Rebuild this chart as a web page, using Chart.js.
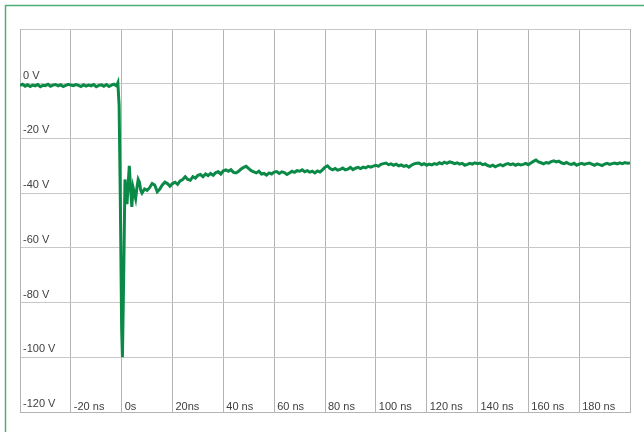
<!DOCTYPE html>
<html>
<head>
<meta charset="utf-8">
<script src="https://cdn.jsdelivr.net/npm/chart.js@4/dist/chart.umd.min.js"></script>
<style>
  html, body { margin: 0; padding: 0; background: #ffffff; overflow: hidden; width: 644px; height: 432px; }
  #c { position: absolute; left: 0; top: 0; }
</style>
</head>
<body>
<canvas id="c" width="644" height="432"></canvas>
<script>
// time in ns
const times = [
  -40,-39,-38,-37,-36,-35,-34,-33,-32,-31,
  -30,-29,-28,-27,-26,-25,-24,-23,-22,-21,
  -20,-19,-18,-17,-16,-15,-14,-13,-12,-11,
  -10,-9,-8,-7,-6,-5,-4,-3,-2,-1.5,
  -1,-0.5,0,0.3,0.8,1.3,1.7,2.1,2.6,3,
  3.5,4,4.5,5,5.5,6,6.5,7,7.5,8,
  9,10,11,12,13,14,15,16,17,18,
  19,20,21,22,23,24,25,26,27,28,
  29,30,31,32,33,34,35,36,37,38,
  39,40,41,42,43,44,45,46,47,48,
  49,50,51,52,53,54,55,56,57,58,
  59,60,61,62,63,64,65,66,67,68,
  69,70,71,72,73,74,75,76,77,78,
  79,80,81,82,83,84,85,86,87,88,
  89,90,91,92,93,94,95,96,97,98,
  99,100,101,102,103,104,105,106,107,108,
  109,110,111,112,113,114,115,116,117,118,
  119,120,121,122,123,124,125,126,127,128,
  129,130,131,132,133,134,135,136,137,138,
  139,140,141,142,143,144,145,146,147,148,
  149,150,151,152,153,154,155,156,157,158,
  159,160,161,162,163,164,165,166,167,168,
  169,170,171,172,173,174,175,176,177,178,
  179,180,181,182,183,184,185,186,187,188,
  189,190,191,192,193,194,195,196,197,198,
  199,200
];
// voltage in V
const volts = [
  -0.6,-0.2,-0.9,-0.4,-1.0,-0.5,-0.8,-0.3,-1.1,-0.6,
  -0.7,-0.2,-0.9,-0.5,-0.3,-0.8,-0.4,-1.0,-0.6,-0.2,
  -0.5,-0.7,-0.3,-0.6,-1.0,-0.4,-0.9,-0.5,-0.8,-0.3,
  -1.1,-0.6,-0.4,-0.9,-0.3,-1.0,-0.5,-0.2,-0.8,0.3,
  -8,-45,-90,-100,-70,-35,-40,-44,-36,-30,
  -38,-45,-38,-40,-42,-38,-35,-36,-39,-40,
  -38.5,-39,-38,-36.5,-37,-39.5,-38.5,-37,-36,-36.5,
  -37.5,-36.5,-36,-36.8,-35.5,-35,-34,-35,-35.3,-34,
  -34.5,-33.5,-33.2,-34,-33,-33.6,-32.8,-33.5,-32.5,-32.2,
  -33,-31.8,-31.5,-32,-31.4,-32.4,-32.6,-32,-31.2,-30.6,
  -30.2,-31,-31.8,-32.2,-32.6,-32,-33,-32.8,-33.4,-32.6,
  -33,-32.3,-32.1,-32.8,-32.2,-32.5,-33.2,-32.6,-32,-32.4,
  -31.8,-32,-31.5,-32.2,-31.8,-32.3,-32,-32.6,-31.9,-32.3,
  -31.5,-30.5,-30,-31,-31.5,-31,-31.6,-31.3,-30.8,-31.5,
  -31.2,-30.6,-31.4,-30.9,-30.6,-31,-30.5,-30.8,-30.2,-30.5,
  -30.1,-29.8,-30.2,-29.5,-29.2,-29,-29.6,-29.3,-29.8,-29.4,
  -30,-29.7,-30.2,-29.9,-30.5,-29.8,-29.3,-29.1,-29,-29.6,
  -29.2,-29.8,-29.4,-29.7,-29.2,-29.5,-28.9,-29.3,-28.7,-29.1,
  -28.6,-28.8,-29.2,-28.9,-29.4,-29.1,-29.8,-29.5,-29.1,-29.4,
  -28.9,-29.2,-29,-29.6,-29.3,-29.9,-30.2,-29.8,-30.4,-29.9,
  -29.6,-30,-29.5,-29.2,-29.6,-29.3,-29.8,-29.4,-29.7,-29.5,
  -29.1,-29.6,-29,-28.4,-27.9,-28.6,-28.9,-29.3,-28.8,-29,
  -28.5,-28.2,-28.6,-28.3,-28.9,-29.2,-28.8,-29.3,-29.5,-29.1,
  -29.8,-29.4,-29.1,-29.5,-29.2,-29,-29.4,-29.8,-29.3,-29.6,
  -29.9,-29.4,-29.1,-29.5,-29.2,-29,-29.3,-28.9,-29.2,-28.8,
  -29.1,-29
];
const xTickValues = [-40,-20,0,20,40,60,80,100,120,140,160,180,200];
const xTickLabels = ['','-20 ns','0s','20ns','40 ns','60 ns','80 ns','100 ns','120 ns','140 ns','160 ns','180 ns',''];
const yTickValues = [-120,-100,-80,-60,-40,-20,0,20];
const yTickLabels = ['-120 V','-100 V','-80 V','-60 V','-40 V','-20 V','0 V',''];

const points = times.map((t, i) => ({ x: t, y: volts[i] }));
const tickFont = { family: "'Liberation Sans', Arial, sans-serif", size: 11, lineHeight: 1.0 };

const framePlugin = {
  id: 'frame',
  beforeDraw(chart) {
    const ctx = chart.ctx;
    ctx.save();
    ctx.fillStyle = '#ffffff';
    ctx.fillRect(0, 0, chart.width, chart.height);
    ctx.strokeStyle = '#4caf7a';
    ctx.lineWidth = 1.5;
    ctx.beginPath();
    ctx.moveTo(5.5, chart.height + 5);
    ctx.lineTo(5.5, 5.5);
    ctx.lineTo(chart.width + 5, 5.5);
    ctx.stroke();
    ctx.restore();
  }
};

new Chart(document.getElementById('c'), {
  type: 'line',
  data: {
    datasets: [{
      data: points,
      borderColor: '#0b8a47',
      borderWidth: 3,
      pointRadius: 0,
      tension: 0,
      fill: false
    }]
  },
  plugins: [framePlugin],
  options: {
    responsive: false,
    animation: false,
    layout: { padding: { left: 14, right: 14, top: 29, bottom: 20 } },
    plugins: { legend: { display: false }, tooltip: { enabled: false } },
    scales: {
      x: {
        type: 'linear',
        min: -40, max: 200,
        grid: { color: '#b4b4b4', lineWidth: 1, drawTicks: false },
        border: { display: true, color: '#b4b4b4' },
        ticks: {
          stepSize: 20,
          mirror: true,
          padding: 0,
          align: 'start',
          labelOffset: 3,
          autoSkip: false,
          maxRotation: 0,
          color: '#404040',
          font: tickFont,
          callback: (v) => { const i = xTickValues.indexOf(v); return i >= 0 ? xTickLabels[i] : ''; }
        }
      },
      y: {
        type: 'linear',
        min: -120, max: 20,
        grid: { color: '#c8c8c8', lineWidth: 1, drawTicks: false },
        border: { display: true, color: '#b4b4b4' },
        ticks: {
          stepSize: 20,
          mirror: true,
          padding: 3,
          labelOffset: -8,
          crossAlign: 'near',
          color: '#404040',
          font: tickFont,
          callback: (v) => { const i = yTickValues.indexOf(v); return i >= 0 ? yTickLabels[i] : ''; }
        }
      }
    }
  }
});
</script>
</body>
</html>
